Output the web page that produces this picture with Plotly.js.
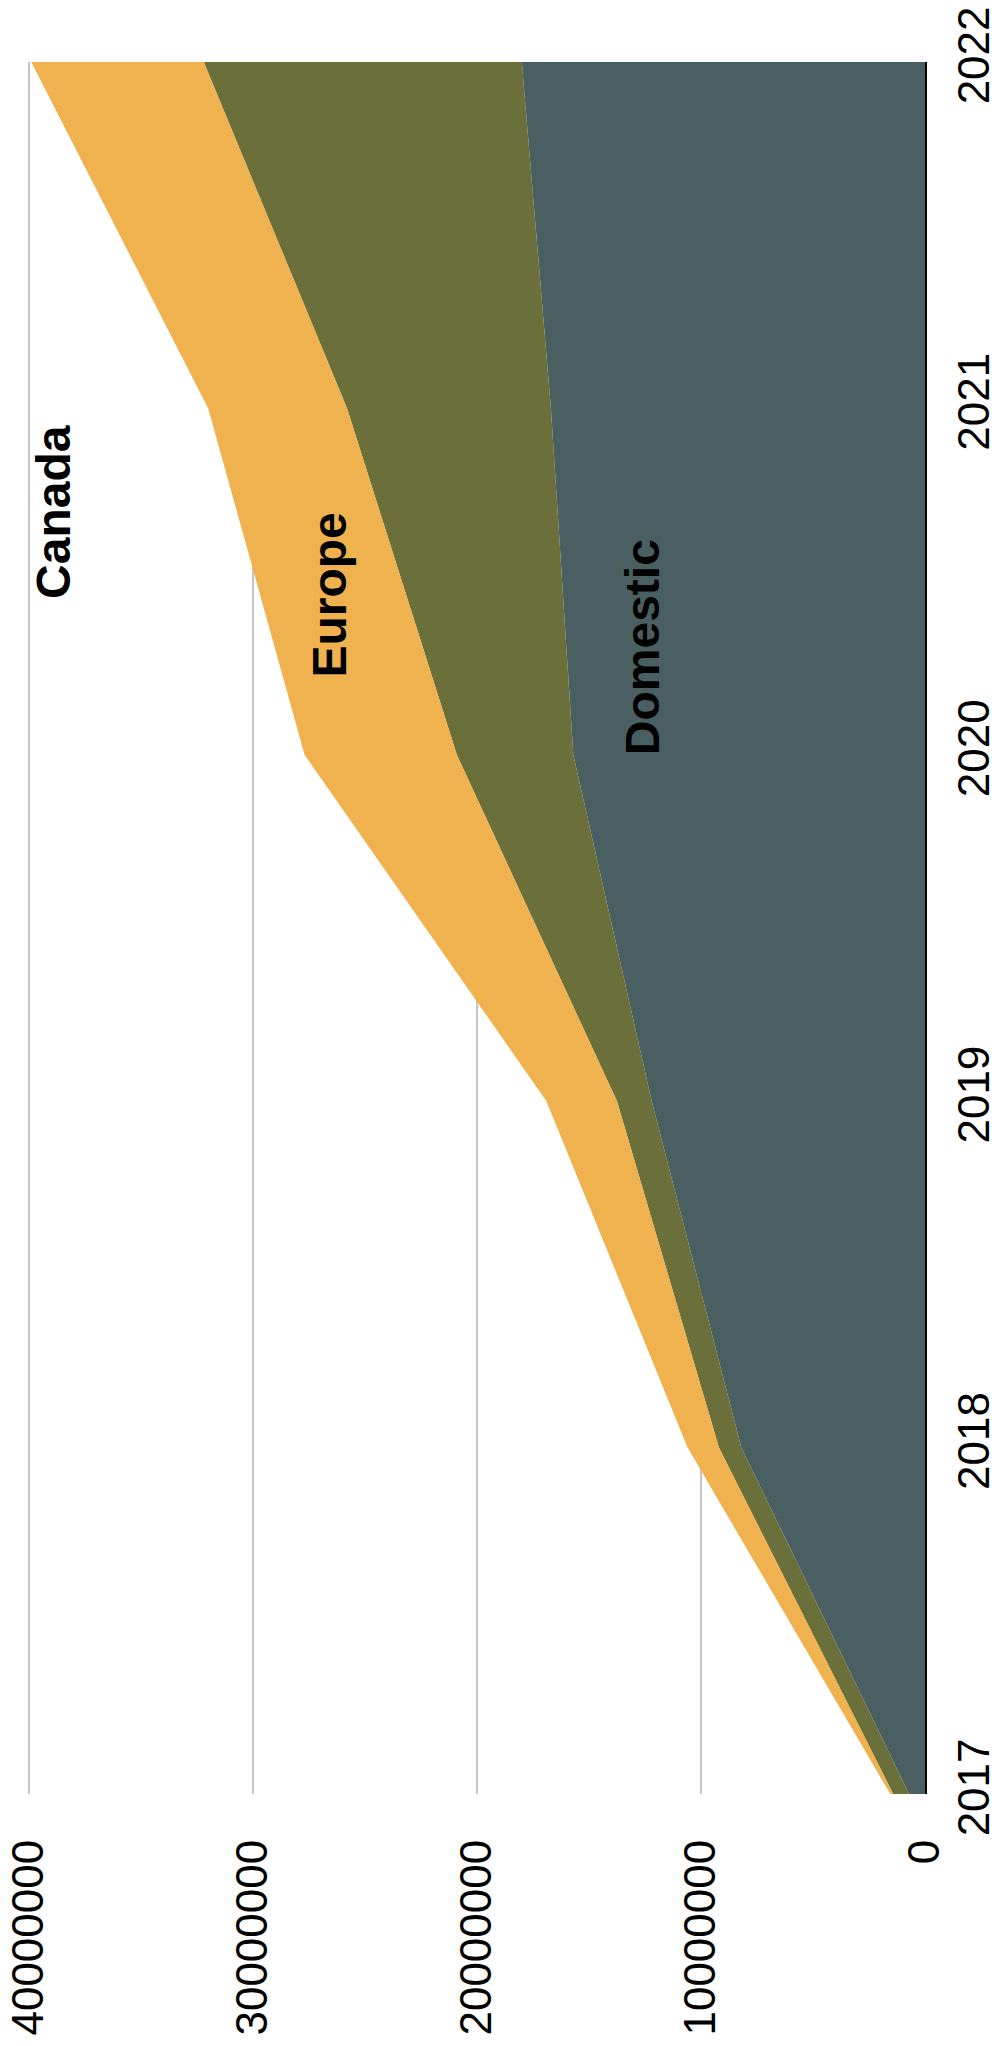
<!DOCTYPE html>
<html>
<head>
<meta charset="utf-8">
<script src="https://cdn.plot.ly/plotly-3.0.1.min.js"></script>
<style>
html,body{margin:0;padding:0;background:#fff;}
#chart{width:1000px;height:2046px;}
</style>
</head>
<body>
<div id="chart"></div>
<script>
// Data
const years = [2017, 2018, 2019, 2020, 2021, 2022];
const domestic = [710000, 8200000, 12200000, 15700000, 16700000, 18000000];
const europe = [710000, 1000000, 1550000, 5200000, 9100000, 14200000];
const canada = [130000, 1400000, 3150000, 6800000, 6200000, 7700000];
const valueTicks = [0, 10000000, 20000000, 30000000, 40000000];
const valueTickText = ['0', '10000000', '20000000', '30000000', '40000000'];
const yearTicks = [2017, 2018, 2019, 2020, 2021, 2022];
const yearTickText = ['2017', '2018', '2019', '2020', '2021', '2022'];
const seriesNames = ['Domestic', 'Europe', 'Canada'];

const colors = ['#495F61', '#6B6F3A', '#EFB24F'];
const series = [domestic, europe, canada];

const traces = series.map((vals, i) => ({
  type: 'scatter',
  mode: 'lines',
  name: seriesNames[i],
  x: vals,
  y: years,
  stackgroup: 'one',
  orientation: 'h',
  line: {width: 0, color: colors[i]},
  fillcolor: colors[i],
  hoverinfo: 'skip'
}));

const font = {family: 'Liberation Sans, Arial, Helvetica, sans-serif', color: '#000'};

const layout = {
  width: 1000,
  height: 2046,
  margin: {l: 25, r: 75, t: 62, b: 252},
  paper_bgcolor: '#fff',
  plot_bgcolor: '#fff',
  showlegend: false,
  font: Object.assign({size: 44}, font),
  xaxis: {
    range: [40178571, 0],
    tickvals: valueTicks,
    ticktext: valueTickText,
    tickangle: -90,
    tickfont: Object.assign({size: 44}, font),
    showgrid: true,
    gridcolor: '#c4c4c4',
    gridwidth: 1.5,
    zeroline: false,
    showline: false,
    ticks: '',
    ticklabelstandoff: 36,
    fixedrange: true
  },
  yaxis: {
    range: [2017, 2022],
    side: 'right',
    tickvals: yearTicks,
    ticktext: yearTickText,
    tickangle: -90,
    tickfont: Object.assign({size: 44}, font),
    showgrid: false,
    zeroline: false,
    showline: true,
    linecolor: '#000',
    linewidth: 2,
    ticks: '',
    ticklabelstandoff: 9,
    fixedrange: true
  },
  annotations: [
    {x: 38900000, y: 2020.70, xref: 'x', yref: 'y', text: '<b>' + seriesNames[2] + '</b>', showarrow: false, textangle: -90, font: Object.assign({size: 48}, font)},
    {x: 26600000, y: 2020.46, xref: 'x', yref: 'y', text: '<b>' + seriesNames[1] + '</b>', showarrow: false, textangle: -90, font: Object.assign({size: 48}, font)},
    {x: 12600000, y: 2020.31, xref: 'x', yref: 'y', text: '<b>' + seriesNames[0] + '</b>', showarrow: false, textangle: -90, font: Object.assign({size: 48}, font)}
  ]
};

Plotly.newPlot('chart', traces, layout, {displayModeBar: false, staticPlot: true});
</script>
</body>
</html>
